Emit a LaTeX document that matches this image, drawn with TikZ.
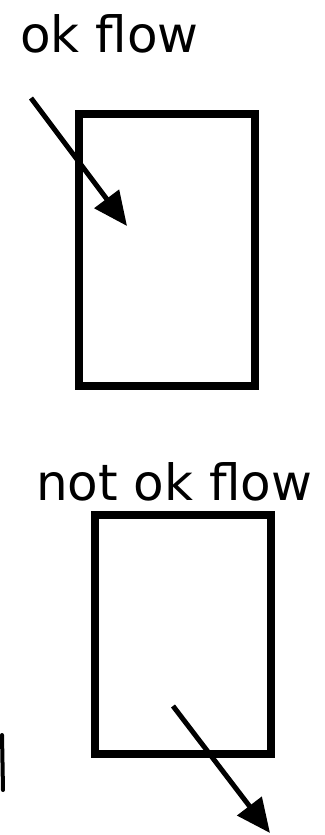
\documentclass[tikz,border=0pt]{standalone}
\usepackage{fontspec}
\setmainfont{DejaVu Sans}
\usetikzlibrary{arrows.meta}
\tikzset{
  boxline/.style={line width=8pt, line join=miter},
  flowarrow/.style={line width=5pt, -{Triangle[length=34pt,width=30pt]}},
  lbl/.style={font=\fontsize{50}{56}\selectfont, inner sep=0pt, anchor=base west},
}
\begin{document}
\begin{tikzpicture}[x=1pt,y=-1pt]
\useasboundingbox (0,0) rectangle (324,835);
% top
\node[lbl] (t1) at (20,52) {ok flow};
\draw[boxline] (79,114) rectangle (255,386);
\coordinate (a1s) at (31,98);
\coordinate (a1e) at (127,226);
\draw[flowarrow] (a1s) -- (a1e);
% bottom
\node[lbl] (t2) at (36,500) {not ok flow};
\draw[boxline] (95,515) rectangle (271,754);
\coordinate (a2s) at (173,706);
\coordinate (a2e) at (270,833);
\draw[flowarrow] (a2s) -- (a2e);
% cropped stroke at left edge
\coordinate (c1) at (2,735);
\coordinate (c2) at (3,790);
\draw[line width=4pt, line cap=round] (c1) -- (c2);
\end{tikzpicture}
\end{document}
